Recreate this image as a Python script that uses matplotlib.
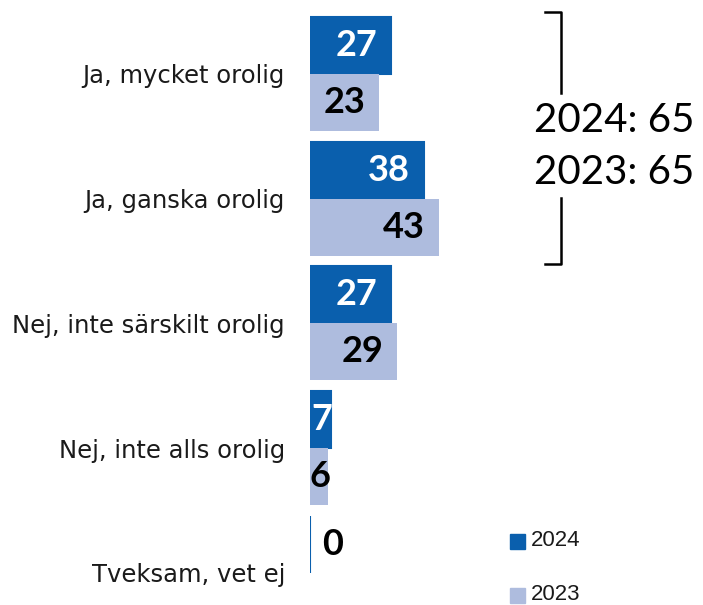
import numpy as np
import matplotlib
matplotlib.use('Agg')
import matplotlib.pyplot as plt

categories = ['Ja, mycket orolig', 'Ja, ganska orolig', 'Nej, inte särskilt orolig',
              'Nej, inte alls orolig', 'Tveksam, vet ej']
vals_2024 = [27, 38, 27, 7, 0]
vals_2023 = [23, 43, 29, 6, np.nan]
sum_labels = ['2024: 65', '2023: 65']
series_names = ['2024', '2023']

dark = '#0a5fad'
light = '#aebcde'

W, H = 703, 605
fig = plt.figure(figsize=(W / 100, H / 100), dpi=100)

# axes in pixel coords: bars start at x=310, ~3 px per unit
ax_l, ax_r = 310, 703
ax = fig.add_axes([ax_l / W, 0, (ax_r - ax_l) / W, 1])
ax.set_xlim(0, (ax_r - ax_l) / 3.0)

pitch = 124.7
c0 = 74
ax.set_ylim((H - c0) / pitch, -c0 / pitch)

bh = 57 / pitch
y = np.arange(len(categories))
y24 = y - bh / 2
y23 = y + bh / 2

ax.barh(y24, vals_2024, height=bh, color=dark, edgecolor=dark, linewidth=1.5)
ax.barh(y23, np.nan_to_num(vals_2023), height=bh, color=light, linewidth=0)

lab_font = dict(family=['Lato', 'DejaVu Sans'], fontsize=26, fontweight='bold')


def put_label(v, yy, col):
    if np.isnan(v):
        return
    s = '%d' % v
    if v == 0:
        ax.annotate(s, (0, yy), xytext=(9, 0), textcoords='offset points',
                    ha='left', va='center', color='black', **lab_font)
    elif v * 3 < 60:
        ax.annotate(s, (v / 2, yy), xytext=(1, 0), textcoords='offset points',
                    ha='center', va='center', color=col, **lab_font)
    else:
        ax.annotate(s, (v, yy), xytext=(-10, 0), textcoords='offset points',
                    ha='right', va='center', color=col, **lab_font)


for v, yy in zip(vals_2024, y24):
    put_label(v, yy, 'white')
for v, yy in zip(vals_2023, y23):
    put_label(v, yy, 'black')

ax.set_yticks(y)
ax.set_yticklabels(categories, family='DejaVu Sans', fontsize=17.5, color='#1a1a1a')
ax.tick_params(axis='y', length=0, pad=18)
ax.set_xticks([])
for sp in ax.spines.values():
    sp.set_visible(False)
ax.patch.set_alpha(0)

# bracket + sums on the right (figure pixel coords)
def px(x, yy):
    return x / W, 1 - yy / H

lw = 1.8
fig.add_artist(plt.Line2D([px(545, 0)[0], px(561, 0)[0], px(561, 0)[0]],
                          [px(0, 12)[1], px(0, 12)[1], px(0, 93)[1]],
                          color='black', lw=lw))
fig.add_artist(plt.Line2D([px(561, 0)[0], px(561, 0)[0], px(545, 0)[0]],
                          [px(0, 198)[1], px(0, 264)[1], px(0, 264)[1]],
                          color='black', lw=lw))
for i, s in enumerate(sum_labels):
    fig.text(px(614, 0)[0], px(0, 121 + 52 * i)[1], s, ha='center', va='center',
             fontsize=29, family=['Lato', 'DejaVu Sans'], fontweight='normal', color='black')

# legend
for i, (nm, col) in enumerate(zip(series_names, [dark, light])):
    yc = 541 + 54 * i
    fig.add_artist(plt.Rectangle(px(510, yc + 7.5), 15 / W, 15 / H, color=col))
    fig.text(px(531, 0)[0], px(0, yc)[1], nm, ha='left', va='center',
             fontsize=16, family=['Liberation Sans', 'DejaVu Sans'], color='#1a1a1a')

fig.savefig('out.png', dpi=100)
